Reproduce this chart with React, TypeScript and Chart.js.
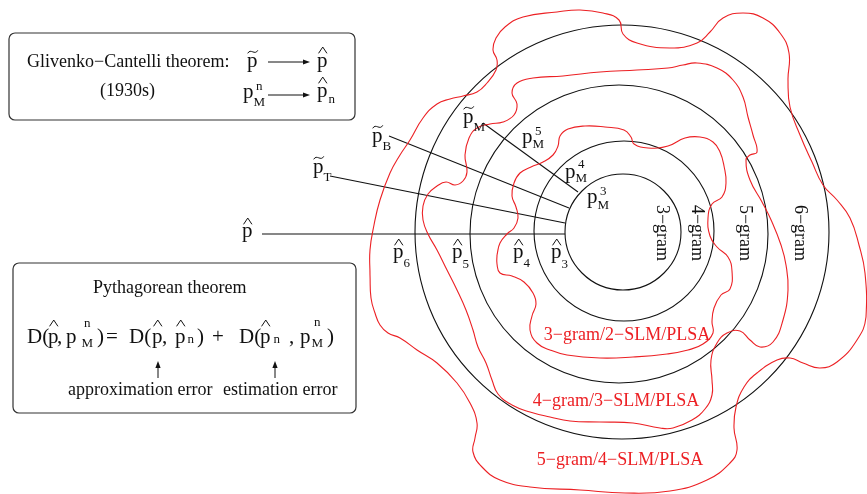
import React, { useEffect, useRef } from 'react';
import { Chart, registerables } from 'chart.js';

Chart.register(...registerables);

const W = 867;
const H = 494;
const SERIF = '"Liberation Serif", "Times New Roman", serif';
const RED = 'rgb(236,32,36)';
const INK = '#111';

// Red contour curves (closed loops), traced [x, y] in diagram units
const curve3gram: number[][] = [
  [497, 255], [500, 243], [507, 234], [514, 228], [518, 218], [516, 207], [512, 196], [514, 183],
  [520, 173], [531, 167], [543, 162], [553, 155], [558, 146], [560, 136], [568, 129], [585, 126],
  [605, 127], [624, 130], [631, 137], [634, 144], [648, 148], [668, 146], [685, 138], [700, 137],
  [713, 142], [720, 152], [724, 166], [726, 183], [722, 197], [712, 204], [708, 218], [710, 236],
  [717, 247], [728, 257], [732, 271], [730, 289], [721, 295], [714, 308], [712, 322], [713, 333],
  [703, 344], [688, 350], [667, 354], [633, 357], [600, 358], [567, 355], [550, 350], [537, 343],
  [530, 330], [532, 316], [536, 304], [533, 293], [524, 282], [512, 276], [500, 273], [497, 264],
];
const curve4gram: number[][] = [
  [447, 270], [437, 250], [428, 234], [423, 220], [423, 206], [428, 194], [437, 186], [446, 182],
  [455, 185], [463, 181], [467, 172], [465, 155], [469, 138], [477, 128], [490, 124], [503, 122],
  [514, 115], [517, 104], [512, 93], [517, 83], [533, 78], [563, 76], [600, 72], [637, 70],
  [668, 68], [683, 65], [697, 63], [717, 68], [733, 80], [743, 97], [748, 117], [753, 135],
  [757, 152], [750, 155], [746, 160], [750, 180], [762, 202], [772, 222], [781, 245], [786, 265],
  [788, 290], [783, 320], [773, 342], [760, 347], [750, 340], [740, 331], [727, 333], [717, 343],
  [711, 360], [712, 380], [712, 395], [705, 409], [692, 420], [673, 428], [660, 428], [633, 423],
  [600, 422], [570, 421], [550, 417], [530, 412], [512, 405], [498, 394], [492, 380], [486, 363],
  [478, 347], [473, 330], [466, 310], [457, 290],
];
const curve5gram: number[][] = [
  [370, 275], [370, 250], [374, 225], [380, 200], [390, 173], [400, 155], [410, 140], [423, 118],
  [437, 104], [450, 99], [463, 96], [477, 92], [487, 83], [496, 70], [497, 60], [493, 50],
  [496, 38], [505, 27], [523, 17], [557, 12], [580, 10], [603, 13], [619, 20], [623, 34],
  [637, 43], [670, 48], [697, 43], [710, 32], [723, 18], [743, 13], [763, 18], [780, 33],
  [789, 53], [788, 80], [790, 107], [800, 135], [812, 162], [823, 185], [837, 200], [850, 218],
  [859, 245], [865, 273], [866, 317], [857, 340], [837, 362], [820, 368], [803, 363], [790, 358],
  [777, 360], [757, 373], [744, 387], [736, 407], [734, 428], [737, 450], [730, 463], [707, 480],
  [670, 491], [625, 493], [580, 490], [530, 487], [500, 480], [482, 467], [473, 452], [475, 438],
  [477, 423], [470, 403], [457, 383], [437, 363], [417, 350], [400, 338], [388, 333], [380, 325],
  [375, 313], [371, 298],
];
const curveNames = ['3−gram/2−SLM/PLSA', '4−gram/3−SLM/PLSA', '5−gram/4−SLM/PLSA'];
const curveNameX = [627, 616, 620];
const curveNameY = [340, 406, 465];

// Concentric n-gram circles
const circleCx = [623, 624, 619, 622];
const circleCy = [232, 231, 234, 232];
const circleR = [58, 90, 149, 207];
const circleLabels = ['3−gram', '4−gram', '5−gram', '6−gram'];
const circleLabelX = [657, 692, 740, 795];
const circleLabelY = [233, 233, 233, 233];

// Projection lines [x1, y1, x2, y2]
const projLines: number[][] = [
  [262, 234, 565, 234],
  [330, 176, 565, 223],
  [389, 136, 569, 208],
  [483, 123, 578, 192],
];

type Sym = { base: string; accent?: 'hat' | 'tilde'; sub?: string; sup?: string; x: number; y: number; subDy?: number; supDy?: number; subDx?: number; gap?: number; size?: number; subSize?: number };

// Diagram symbols
const diagramSyms: Sym[] = [
  { base: 'p', accent: 'hat', x: 242, y: 237 },
  { base: 'p', accent: 'tilde', sub: 'T', x: 313, y: 173, subDy: 8 },
  { base: 'p', accent: 'tilde', sub: 'B', x: 372, y: 142, subDy: 8 },
  { base: 'p', accent: 'tilde', sub: 'M', x: 463, y: 123, subDy: 8 },
  { base: 'p', sub: 'M', sup: '5', x: 522, y: 143, subDy: 5, supDy: -8 },
  { base: 'p', sub: 'M', sup: '4', x: 565, y: 178, subDy: 4, supDy: -10 },
  { base: 'p', sub: 'M', sup: '3', x: 587, y: 203, subDy: 6, supDy: -8 },
  { base: 'p', accent: 'hat', sub: '6', x: 393, y: 258, subDy: 9 },
  { base: 'p', accent: 'hat', sub: '5', x: 452, y: 258, subDy: 10 },
  { base: 'p', accent: 'hat', sub: '4', x: 513, y: 258, subDy: 9 },
  { base: 'p', accent: 'hat', sub: '3', x: 551, y: 258, subDy: 10 },
];

// Theorem boxes [x1, y1, x2, y2]
const boxes: number[][] = [
  [9, 33, 355, 120],
  [13, 263, 356, 413],
];
const boxTexts = ['Glivenko−Cantelli theorem:', '(1930s)', 'Pythagorean theorem', 'approximation error', 'estimation error'];
const boxTextX = [27, 100, 93, 68, 223];
const boxTextY = [67, 96, 293, 395, 395];

const boxSyms: Sym[] = [
  { base: 'p', accent: 'tilde', x: 247, y: 67 },
  { base: 'p', accent: 'hat', x: 317, y: 67, gap: 4 },
  { base: 'p', sub: 'M', sup: 'n', x: 243, y: 98, subDy: 8, supDy: -8 },
  { base: 'p', accent: 'hat', sub: 'n', x: 317, y: 97, subDy: 6, subDx: 1, gap: 4 },
];
// arrows [x1, y1, x2, y2] (head at x2,y2)
const arrows: number[][] = [
  [268, 62, 310, 62],
  [268, 95, 310, 95],
  [158, 378, 158, 361],
  [275, 378, 275, 361],
];

// Formula pieces
const formulaTexts = ['D(', ',', ')', '=', 'D(', ',', ')', '+', 'D(', ',', ')'];
const formulaX = [27, 57, 97, 106, 129, 162, 197, 212, 239, 289, 327];
const formulaY = 343;
const formulaSyms: Sym[] = [
  { base: 'p', accent: 'hat', x: 48, y: 343, gap: 7 },
  { base: 'p', sub: 'M', sup: 'n', x: 66, y: 343, subDx: 5, subDy: 4, supDy: -16 },
  { base: 'p', accent: 'hat', x: 152, y: 343, gap: 7 },
  { base: 'p', accent: 'hat', sub: 'n', x: 175, y: 343, subDx: 2, subDy: 0, gap: 7 },
  { base: 'p', accent: 'hat', sub: 'n', x: 260, y: 343, subDx: 3, subDy: 0, gap: 7 },
  { base: 'p', sub: 'M', sup: 'n', x: 300, y: 343, subDx: 1, subDy: 4, supDy: -17 },
];

function loop(pts: number[][]) {
  const d = pts.map(([x, y]) => ({ x, y }));
  d.push({ x: pts[0][0], y: pts[0][1] });
  return d;
}

const diagramPlugin = {
  id: 'diagram',
  beforeDatasetsDraw(chart: any) {
    const { ctx, scales } = chart;
    const px = (v: number) => scales.x.getPixelForValue(v);
    const py = (v: number) => scales.y.getPixelForValue(v);
    ctx.save();
    ctx.strokeStyle = INK;
    ctx.lineWidth = 1.1;
    for (let i = 0; i < circleR.length; i++) {
      const r = px(circleCx[i] + circleR[i]) - px(circleCx[i]);
      ctx.beginPath();
      ctx.arc(px(circleCx[i]), py(circleCy[i]), r, 0, Math.PI * 2);
      ctx.stroke();
    }
    // boxes
    ctx.strokeStyle = '#333';
    ctx.lineWidth = 1.2;
    for (const [x1, y1, x2, y2] of boxes) {
      const X1 = px(x1), Y1 = py(y1), X2 = px(x2), Y2 = py(y2);
      const rr = 6;
      ctx.beginPath();
      ctx.moveTo(X1 + rr, Y1);
      ctx.arcTo(X2, Y1, X2, Y2, rr);
      ctx.arcTo(X2, Y2, X1, Y2, rr);
      ctx.arcTo(X1, Y2, X1, Y1, rr);
      ctx.arcTo(X1, Y1, X2, Y1, rr);
      ctx.closePath();
      ctx.stroke();
    }
    ctx.restore();
  },
  afterDatasetsDraw(chart: any) {
    const { ctx, scales } = chart;
    const px = (v: number) => scales.x.getPixelForValue(v);
    const py = (v: number) => scales.y.getPixelForValue(v);
    ctx.save();
    ctx.fillStyle = INK;
    ctx.strokeStyle = INK;
    ctx.textBaseline = 'alphabetic';

    const drawSym = (s: Sym) => {
      const size = s.size ?? 21;
      const subSize = s.subSize ?? 13;
      const X = px(s.x), Y = py(s.y);
      ctx.font = `${size}px ${SERIF}`;
      ctx.textAlign = 'left';
      ctx.fillText(s.base, X, Y);
      const w = ctx.measureText(s.base).width;
      const xh = size * 0.46;
      const gap = s.gap ?? 3;
      const cx = X + w / 2 + 0.5;
      ctx.lineWidth = 1;
      if (s.accent === 'hat') {
        const yb = Y - xh - gap;
        const hw = size * 0.2, hh = size * 0.3;
        ctx.beginPath();
        ctx.moveTo(cx - hw, yb);
        ctx.lineTo(cx, yb - hh);
        ctx.lineTo(cx + hw, yb);
        ctx.stroke();
      } else if (s.accent === 'tilde') {
        const yb = Y - xh - gap - 2.5;
        const hw = size * 0.24;
        ctx.beginPath();
        ctx.moveTo(cx - hw, yb + 1.5);
        ctx.bezierCurveTo(cx - hw * 0.4, yb - 4, cx + hw * 0.4, yb + 4, cx + hw, yb - 1.5);
        ctx.stroke();
      }
      ctx.font = `${subSize}px ${SERIF}`;
      const sx = X + w + (s.subDx ?? 0);
      if (s.sub) ctx.fillText(s.sub, sx, Y + (s.subDy ?? 8));
      if (s.sup) {
        const sw = s.sub ? ctx.measureText(s.sub).width : 0;
        const supx = s.sub ? sx + sw / 2 - ctx.measureText(s.sup).width / 2 : sx;
        ctx.fillText(s.sup, supx, Y + (s.supDy ?? -9));
      }
    };

    // circle labels (rotated)
    ctx.font = `18px ${SERIF}`;
    for (let i = 0; i < circleLabels.length; i++) {
      ctx.save();
      ctx.translate(px(circleLabelX[i]), py(circleLabelY[i]));
      ctx.rotate(Math.PI / 2);
      ctx.textAlign = 'center';
      ctx.fillText(circleLabels[i], 0, 0);
      ctx.restore();
    }
    // red curve labels
    ctx.fillStyle = RED;
    ctx.textAlign = 'center';
    for (let i = 0; i < curveNames.length; i++) {
      ctx.fillText(curveNames[i], px(curveNameX[i]), py(curveNameY[i]));
    }
    ctx.fillStyle = INK;

    diagramSyms.forEach(drawSym);

    // box text
    ctx.font = `18px ${SERIF}`;
    ctx.textAlign = 'left';
    for (let i = 0; i < boxTexts.length; i++) {
      ctx.fillText(boxTexts[i], px(boxTextX[i]), py(boxTextY[i]));
    }
    boxSyms.forEach(drawSym);
    ctx.font = `21px ${SERIF}`;
    ctx.textAlign = 'left';
    for (let i = 0; i < formulaTexts.length; i++) {
      ctx.fillText(formulaTexts[i], px(formulaX[i]), py(formulaY));
    }
    formulaSyms.forEach(drawSym);

    // arrows
    ctx.lineWidth = 1;
    for (const [x1, y1, x2, y2] of arrows) {
      const X1 = px(x1), Y1 = py(y1), X2 = px(x2), Y2 = py(y2);
      const ang = Math.atan2(Y2 - Y1, X2 - X1);
      const L = 7, hw = 2.6;
      const bx = X2 - L * Math.cos(ang), by = Y2 - L * Math.sin(ang);
      ctx.beginPath();
      ctx.moveTo(X1, Y1);
      ctx.lineTo(bx, by);
      ctx.stroke();
      ctx.beginPath();
      ctx.moveTo(X2, Y2);
      ctx.lineTo(bx - hw * Math.sin(ang), by + hw * Math.cos(ang));
      ctx.lineTo(bx + hw * Math.sin(ang), by - hw * Math.cos(ang));
      ctx.closePath();
      ctx.fill();
    }
    ctx.restore();
  },
};

export default function App() {
  const ref = useRef<HTMLCanvasElement | null>(null);
  useEffect(() => {
    if (!ref.current) return;
    const datasets: any[] = [];
    [curve3gram, curve4gram, curve5gram].forEach((c, i) => {
      datasets.push({
        label: curveNames[i],
        data: loop(c),
        showLine: true,
        borderColor: RED,
        borderWidth: 1.1,
        pointRadius: 0,
        tension: 0.45,
        fill: false,
      });
    });
    projLines.forEach(([x1, y1, x2, y2], i) => {
      datasets.push({
        label: 'line' + i,
        data: [{ x: x1, y: y1 }, { x: x2, y: y2 }],
        showLine: true,
        borderColor: INK,
        borderWidth: 1.1,
        pointRadius: 0,
        tension: 0,
      });
    });
    const chart = new Chart(ref.current, {
      type: 'scatter',
      data: { datasets },
      options: {
        animation: false,
        responsive: false,
        maintainAspectRatio: false,
        events: [],
        layout: { padding: 0, autoPadding: false },
        plugins: { legend: { display: false }, tooltip: { enabled: false } },
        scales: {
          x: { type: 'linear', min: 0, max: W, display: false },
          y: { type: 'linear', min: 0, max: H, reverse: true, display: false },
        },
      } as any,
      plugins: [diagramPlugin],
    });
    return () => chart.destroy();
  }, []);
  return (
    <div style={{ position: 'absolute', left: 0, top: 0, width: W, height: H, background: '#fff' }}>
      <canvas ref={ref} width={W} height={H} style={{ display: 'block', width: W, height: H }} />
    </div>
  );
}
